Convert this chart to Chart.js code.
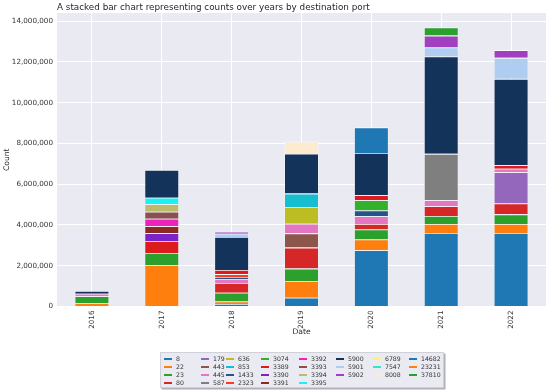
<!DOCTYPE html>
<html>
<head>
<meta charset="utf-8">
<script src="https://cdn.jsdelivr.net/npm/chart.js@4/dist/chart.umd.min.js"></script>
<style>
  html, body { margin: 0; padding: 0; background: #ffffff; }
  #wrap { position: relative; width: 550px; height: 392px; }
  #legend {
    position: absolute; left: 160px; top: 352px; width: 282px; height: 34px;
    background: #eaeaf2; border: 1px solid #d0d0d8; box-shadow: 1.5px 1.5px 0 #b0b0b8;
    font-family: "DejaVu Sans", sans-serif; font-size: 6.2px; color: #333;
  }
  .li { position: absolute; height: 8px; line-height: 8px; white-space: nowrap; }
  .li span.h { position: absolute; left: 0; top: 3px; width: 8px; height: 2px; }
  .li span.t { position: absolute; left: 12px; top: 0; }
</style>
</head>
<body>
<div id="wrap">
  <canvas id="c" width="550" height="392"></canvas>
  <div id="legend"></div>
</div>
<script>
// ---- Data ----
const years = ['2016', '2017', '2018', '2019', '2020', '2021', '2022'];
const ports = ['8', '22', '23', '80', '179', '443', '445', '587', '636', '853', '1433', '2323',
  '3074', '3389', '3390', '3391', '3392', '3393', '3394', '3395', '5900', '5901', '5902',
  '6789', '7547', '8008', '14682', '23231', '37810'];
const portColors = ['#1f77b4', '#ff7f0e', '#2ca02c', '#d62728', '#9467bd', '#8c564b', '#e377c2',
  '#7f7f7f', '#bcbd22', '#17becf', '#22558c', '#ff3b1f', '#33b02c', '#dc1c1c', '#7b22c8',
  '#8b2a1f', '#ee22b8', '#8a5050', '#bdbb6b', '#1af2f2', '#13335a', '#aecdf0', '#a040c0',
  '#fff176', '#40e0c8', '#fdebd0', '#1f77b4', '#ff7f0e', '#2ca02c'];

const c8     = [0, 0, 120000, 430000, 2760000, 3610000, 3610000];
const c22    = [170000, 2040000, 130000, 820000, 530000, 440000, 440000];
const c23    = [330000, 590000, 430000, 610000, 490000, 390000, 470000];
const c80    = [0, 0, 470000, 1030000, 270000, 480000, 530000];
const c179   = [0, 0, 0, 0, 0, 0, 1540000];
const c443   = [0, 0, 0, 700000, 0, 0, 0];
const c445   = [130000, 0, 200000, 470000, 380000, 290000, 170000];
const c587   = [0, 0, 0, 0, 0, 2280000, 0];
const c636   = [0, 0, 0, 820000, 0, 0, 0];
const c853   = [0, 0, 0, 660000, 0, 0, 0];
const c1433  = [0, 0, 100000, 0, 280000, 0, 0];
const c2323  = [0, 0, 140000, 0, 0, 0, 0];
const c3074  = [0, 0, 0, 0, 500000, 0, 0];
const c3389  = [0, 580000, 200000, 0, 250000, 0, 170000];
const c3390  = [0, 390000, 0, 0, 0, 0, 0];
const c3391  = [0, 340000, 0, 0, 0, 0, 0];
const c3392  = [0, 370000, 0, 0, 0, 0, 0];
const c3393  = [0, 340000, 0, 0, 0, 0, 0];
const c3394  = [0, 370000, 0, 0, 0, 0, 0];
const c3395  = [0, 320000, 0, 0, 0, 0, 0];
const c5900  = [130000, 1360000, 1620000, 1960000, 2070000, 4780000, 4240000];
const c5901  = [0, 0, 160000, 0, 0, 440000, 1030000];
const c5902  = [0, 0, 100000, 0, 0, 580000, 380000];
const c6789  = [0, 0, 0, 0, 0, 0, 0];
const c7547  = [0, 0, 0, 0, 0, 0, 0];
const c8008  = [0, 0, 0, 590000, 0, 0, 0];
const c14682 = [0, 0, 0, 0, 1260000, 0, 0];
const c23231 = [0, 0, 0, 0, 0, 0, 0];
const c37810 = [0, 0, 0, 0, 0, 400000, 0];

const counts = [c8, c22, c23, c80, c179, c443, c445, c587, c636, c853, c1433, c2323, c3074,
  c3389, c3390, c3391, c3392, c3393, c3394, c3395, c5900, c5901, c5902, c6789, c7547, c8008,
  c14682, c23231, c37810];

const yTicks = [0, 2000000, 4000000, 6000000, 8000000, 10000000, 12000000, 14000000];
const titleText = 'A stacked bar chart representing counts over years by destination port';

// ---- Chart ----
const FONT = '"DejaVu Sans", sans-serif';
const datasets = ports.map((p, i) => ({
  label: p,
  data: counts[i],
  backgroundColor: portColors[i],
  borderColor: 'rgba(255,255,255,0.75)',
  borderWidth: { top: 0.8, left: 0.6, right: 0.6, bottom: 0 },
  borderSkipped: false,
  barPercentage: 0.49,
  categoryPercentage: 1.0
}));

const bgPlugin = {
  id: 'bg',
  beforeDraw(chart) {
    const { ctx, chartArea: a } = chart;
    ctx.save();
    ctx.fillStyle = '#eaeaf2';
    ctx.fillRect(a.left, a.top, a.right - a.left, a.bottom - a.top);
    ctx.restore();
  },
  afterDraw(chart) {
    const { ctx, chartArea: a } = chart;
    ctx.save();
    ctx.fillStyle = '#262626';
    ctx.font = '8.8px ' + FONT;
    ctx.textAlign = 'left';
    ctx.textBaseline = 'alphabetic';
    ctx.fillText(titleText, a.left, 10);
    ctx.restore();
  }
};

new Chart(document.getElementById('c'), {
  type: 'bar',
  data: { labels: years, datasets },
  options: {
    responsive: false,
    animation: false,
    devicePixelRatio: 1,
    layout: { padding: { top: 13, right: 4, bottom: 51, left: 0 } },
    plugins: { legend: { display: false }, title: { display: false }, tooltip: { enabled: false } },
    scales: {
      x: {
        stacked: true,
        grid: { color: '#ffffff', lineWidth: 1, offset: false, drawTicks: false },
        border: { display: false },
        ticks: { color: '#333', font: { family: FONT, size: 7.2 }, minRotation: 90, maxRotation: 90, padding: 4 },
        title: { display: true, text: 'Date', color: '#262626', font: { family: FONT, size: 7.6 }, padding: { top: 2, bottom: 4 } },
        afterFit(s) { s.height = 34.5; }
      },
      y: {
        stacked: true,
        min: 0,
        max: 14400000,
        grid: { color: '#ffffff', lineWidth: 1, drawTicks: false },
        border: { display: false },
        afterBuildTicks(s) { s.ticks = yTicks.map(v => ({ value: v })); },
        ticks: { color: '#333', font: { family: FONT, size: 7.2 }, padding: 4,
          callback: v => Number(v).toLocaleString('en-US') },
        title: { display: true, text: 'Count', color: '#262626', font: { family: FONT, size: 7.6 }, padding: { top: 2, bottom: 2 } },
        afterFit(s) { s.width = 57; }
      }
    }
  },
  plugins: [bgPlugin]
});

// ---- Legend (column-major, 8 columns) ----
const colLeft = [3, 40, 65, 100, 138, 175, 212, 248];
const rowTop = [2, 10, 18, 26];
const nCols = 8, nItems = ports.length;
const perCol = [];
{ const base = Math.floor(nItems / nCols), extra = nItems % nCols;
  for (let c = 0; c < nCols; c++) perCol.push(base + (c < extra ? 1 : 0)); }
const leg = document.getElementById('legend');
let idx = 0;
for (let c = 0; c < nCols; c++) {
  for (let r = 0; r < perCol[c]; r++, idx++) {
    const d = document.createElement('div');
    d.className = 'li';
    d.style.left = colLeft[c] + 'px';
    d.style.top = rowTop[r] + 'px';
    d.innerHTML = '<span class="h" style="background:' + portColors[idx] + '"></span><span class="t">' + ports[idx] + '</span>';
    leg.appendChild(d);
  }
}
</script>
</body>
</html>
